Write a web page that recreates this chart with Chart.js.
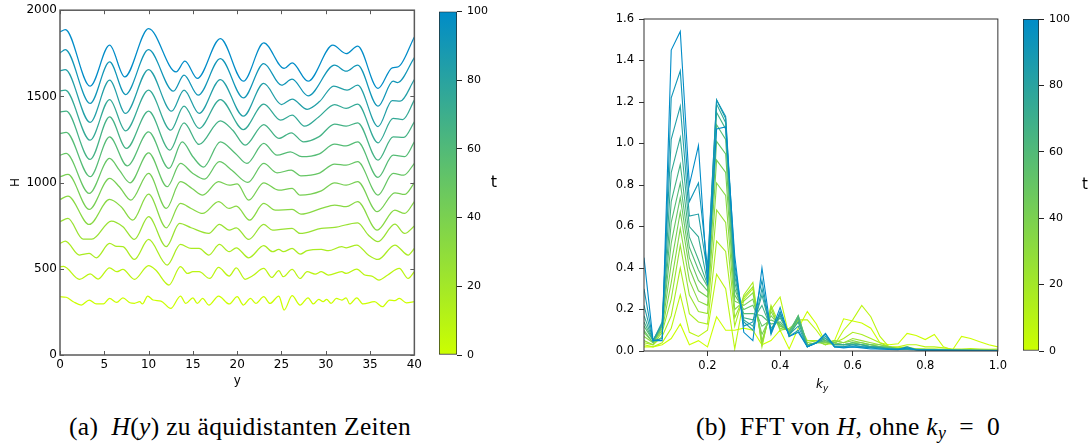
<!DOCTYPE html>
<html>
<head>
<meta charset="utf-8">
<script src="https://cdn.jsdelivr.net/npm/chart.js@4.4.1/dist/chart.umd.min.js"></script>
<style>
  html, body { margin: 0; padding: 0; background: #fff; }
  body { width: 1092px; height: 446px; position: relative; overflow: hidden; }
  canvas { position: absolute; top: 0; }
  .caption {
    position: absolute; top: 412px; transform: translateX(-50%);
    font-family: "Liberation Serif", "DejaVu Serif", serif; font-size: 25.5px;
    color: #000; white-space: nowrap; letter-spacing: 0.3px;
  }
  .caption sub { font-size: 70%; vertical-align: -0.25em; }
</style>
</head>
<body>
<canvas id="hPlot" width="425" height="400" style="left:0px"></canvas>
<canvas id="hBar" width="90" height="400" style="left:430px"></canvas>
<canvas id="fftPlot" width="450" height="400" style="left:560px"></canvas>
<canvas id="fftBar" width="82" height="400" style="left:1010px"></canvas>
<div class="caption" style="left:240px">(a)&nbsp; <i>H</i>(<i>y</i>) zu äquidistanten Zeiten</div>
<div class="caption" style="left:848px">(b)&nbsp; FFT von <i>H</i>, ohne <i>k<sub>y</sub></i>&ensp;=&ensp;0</div>

<script>
// times of the curves (colour index), 13 equidistant snapshots
const curveTimes = [0, 8.33, 16.67, 25, 33.33, 41.67, 50, 58.33, 66.67, 75, 83.33, 91.67, 100];

// colormap used by both colorbars
const cmapStops = [0, 100];
const cmapRGB = [[204, 255, 0], [0, 140, 200]];

// ---- left plot: H(y), points are [y, H]
const h_t0 = [[0,338],[0.7,335],[1.5,309],[2.4,290],[3.3,319],[4.1,296],[4.9,296],[5.6,328],[6.4,305],[7.1,332],[7.9,303],[8.4,300],[9.0,309],[9.3,296],[9.9,342],[10.5,319],[11.4,313],[12.5,270],[13.6,342],[14.2,299],[15.0,332],[15.5,299],[16.1,328],[16.8,290],[17.9,342],[19.1,296],[20.0,338],[20.7,290],[21.5,328],[22.1,299],[23.0,338],[23.7,299],[24.7,342],[25.3,261],[26.2,344],[27.1,290],[28.0,332],[28.6,296],[29.2,323],[29.7,309],[30.1,323],[30.6,299],[31.2,328],[31.8,319],[32.3,332],[32.7,296],[33.5,332],[34.2,296],[35.5,309],[36.4,280],[37.2,319],[37.8,315],[38.3,328],[39.1,303],[40,309]];
const h_t8 = [[0,512],[0.4,514],[2.2,439],[3.4,470],[4.3,440],[5.6,506],[6.4,483],[7.1,496],[8.4,439],[10.0,518],[10.8,493],[12.3,406],[13.6,512],[14.4,473],[15.0,483],[15.7,483],[16.9,444],[17.9,508],[19.1,458],[19.9,506],[20.9,439],[21.7,458],[23.0,502],[23.9,450],[24.7,489],[25.2,454],[26.2,496],[27.1,444],[27.9,483],[28.8,469],[29.5,483],[30.3,464],[31.8,483],[32.3,473],[33.5,498],[34.4,464],[35.2,458],[36.0,435],[37.0,464],[38.3,502],[39.3,444],[40,483]];
const h_t17 = [[0,647],[0.6,661],[2.2,580],[3.3,589],[4.1,564],[5.6,647],[6.4,630],[7.1,628],[8.4,554],[10.0,670],[12.1,522],[13.6,641],[14.8,618],[15.7,618],[16.8,580],[18.0,641],[19.1,599],[19.9,622],[21.3,564],[23.0,634],[24.0,599],[24.7,612],[25.2,599],[26.2,618],[27.1,585],[27.9,605],[29.5,612],[30.3,605],[31.8,628],[32.3,622],[33.5,638],[34.8,580],[35.9,554],[37.8,638],[39.3,580],[40,618]];
const h_t25 = [[0,773],[0.9,792],[2.6,672],[3.6,672],[5.8,777],[7.1,744],[8.4,670],[10.0,802],[12.0,628],[13.5,763],[14.8,738],[16.8,705],[18.0,757],[19.1,724],[19.9,738],[21.3,670],[23.0,757],[24.0,724],[24.7,727],[26.2,734],[27.1,705],[29.5,734],[31.0,740],[33.6,767],[34.8,696],[35.9,657],[37.8,759],[38.9,705],[40,748]];
const h_t33 = [[0,902],[0.9,922],[3.3,757],[5.6,902],[6.9,860],[8.2,782],[10.0,933],[12.0,738],[13.6,879],[14.8,850],[16.1,821],[17.9,889],[19.1,850],[19.9,864],[21.4,782],[23.0,879],[24.3,840],[26.2,844],[27.2,817],[29.5,850],[31.0,870],[32.3,860],[33.6,889],[35.8,724],[37.8,840],[38.9,821],[40,889]];
const h_t42 = [[0,1034],[0.9,1047],[3.3,844],[5.6,1024],[6.7,976],[8.0,898],[10.0,1053],[12.0,850],[13.6,1005],[14.9,966],[16.1,927],[17.9,1005],[19.1,985],[20.0,992],[21.3,898],[23.0,999],[24.7,956],[26.2,966],[27.1,927],[29.5,952],[31.0,999],[32.3,985],[33.6,1005],[35.8,831],[37.8,941],[38.9,931],[40,999]];
const h_t50 = [[0,1159],[0.7,1169],[3.3,937],[5.6,1140],[6.7,1072],[7.9,999],[10.0,1173],[12.1,976],[13.6,1111],[15.0,1053],[16.3,1020],[18.0,1121],[19.4,1072],[21.2,1001],[23.0,1111],[24.5,1057],[26.1,1072],[27.2,1039],[29.2,1053],[31.0,1107],[32.3,1101],[33.6,1121],[35.9,928],[37.6,1053],[38.8,1043],[40,1111]];
const h_t58 = [[0,1285],[0.7,1291],[3.4,1034],[5.6,1265],[7.6,1097],[10.0,1294],[12.3,1082],[13.8,1236],[15.0,1150],[16.2,1090],[18.1,1236],[19.8,1169],[21.1,1111],[23.0,1227],[24.5,1159],[26.0,1178],[27.3,1150],[29.2,1165],[31.0,1223],[32.3,1213],[33.6,1236],[35.9,1030],[37.6,1159],[38.9,1150],[40,1236]];
const h_t67 = [[0,1410],[0.7,1414],[3.4,1134],[5.6,1381],[7.5,1198],[10.0,1414],[12.4,1188],[14.0,1347],[15.7,1221],[18.1,1358],[19.5,1304],[20.9,1217],[23.0,1337],[24.7,1256],[26.1,1289],[27.5,1236],[29.2,1265],[31.0,1339],[32.3,1327],[33.6,1347],[35.9,1130],[37.6,1265],[38.8,1262],[40,1352]];
const h_t75 = [[0,1532],[0.6,1536],[3.4,1246],[5.6,1482],[7.4,1300],[10.0,1536],[12.5,1304],[14.0,1443],[15.7,1314],[18.1,1482],[20.7,1308],[23.0,1455],[24.9,1362],[26.2,1391],[27.6,1327],[29.2,1381],[31.0,1453],[32.3,1430],[33.6,1455],[35.9,1231],[37.6,1372],[38.7,1366],[40,1478]];
const h_t83 = [[0,1648],[0.6,1655],[3.4,1349],[5.6,1594],[7.4,1401],[10.0,1656],[12.6,1414],[14.0,1536],[15.7,1401],[18.1,1598],[20.7,1385],[23.0,1575],[25.0,1453],[26.2,1484],[27.9,1425],[29.3,1470],[30.9,1560],[32.4,1536],[33.6,1565],[35.9,1325],[37.5,1475],[38.4,1472],[40,1598]];
const h_t92 = [[0,1752],[0.6,1771],[3.4,1459],[5.6,1700],[7.4,1511],[10.0,1771],[12.8,1530],[14.0,1623],[15.6,1507],[18.1,1719],[20.7,1491],[23.0,1690],[25.0,1565],[26.2,1600],[28.0,1503],[31.0,1681],[32.3,1646],[33.6,1681],[35.9,1443],[37.6,1588],[38.1,1580],[40,1725]];
const h_t100 = [[0,1874],[0.6,1888],[3.4,1559],[5.6,1797],[7.3,1613],[10.0,1893],[13.1,1642],[14.1,1704],[15.5,1604],[18.1,1835],[20.7,1588],[23.0,1810],[25.3,1662],[26.2,1694],[28.0,1588],[30.8,1797],[32.3,1748],[33.6,1791],[35.9,1546],[37.5,1666],[38.2,1672],[40,1845]];
const hCurves = [h_t0, h_t8, h_t17, h_t25, h_t33, h_t42, h_t50, h_t58, h_t67, h_t75, h_t83, h_t92, h_t100];
const hXTicks = [0, 5, 10, 15, 20, 25, 30, 35, 40];
const hYTicks = [0, 500, 1000, 1500, 2000];

// ---- right plot: |FFT(H)| over k_y
const fftK = [0.025,0.05,0.075,0.1,0.125,0.15,0.175,0.2,0.225,0.25,0.275,0.3,0.325,0.35,0.375,0.4,0.425,0.45,0.475,0.5,
              0.525,0.55,0.575,0.6,0.625,0.65,0.675,0.7,0.725,0.75,0.775,0.8,0.825,0.85,0.875,0.9,0.925,0.95,0.975,1.0];
const fft_t0 = [0.02,0.02,0.03,0.06,0.13,0.03,0.05,0.02,0.165,0.10, 0.10,0.11,0.10,0.03,0.05,0.10,0.01,0.11,0.19,0.13,
  0.04,0.05,0.155,0.145,0.135,0.11,0.04,0.03,0.035,0.085, 0.075,0.055,0.08,0.02,0.005,0.07,0.06,0.045,0.03,0.02];
const fft_t8 = [0.03,0.02,0.04,0.11,0.27,0.09,0.07,0.10,0.37,0.30, 0.01,0.25,0.30,0.04,0.20,0.26,0.07,0.15,0.15,0.10,
  0.04,0.03,0.10,0.15,0.22,0.165,0.07,0.02,0.02,0.03, 0.03,0.02,0.02,0.015,0.01,0.01,0.012,0.01,0.008,0.01];
const fft_t17 = [0.04,0.03,0.07,0.17,0.40,0.18,0.14,0.13,0.53,0.48, 0.12,0.27,0.33,0.02,0.22,0.12,0.10,0.14,0.05,0.05,
  0.03,0.04,0.06,0.09,0.08,0.06,0.04,0.02,0.015,0.02, 0.01,0.01,0.01,0.008,0.006,0.005,0.005,0.005,0.004,0.004];
const fft_t25 = [0.05,0.03,0.09,0.25,0.51,0.27,0.19,0.18,0.68,0.62, 0.16,0.26,0.31,0.03,0.21,0.10,0.11,0.14,0.04,0.05,
  0.03,0.05,0.04,0.06,0.05,0.04,0.03,0.02,0.01,0.012, 0.01,0.008,0.008,0.006,0.005,0.005,0.004,0.004,0.004,0.003];
const fft_t33 = [0.07,0.04,0.10,0.33,0.59,0.34,0.24,0.22,0.81,0.75, 0.20,0.24,0.28,0.05,0.19,0.11,0.10,0.15,0.03,0.04,
  0.04,0.05,0.04,0.05,0.04,0.03,0.03,0.02,0.01,0.01, 0.01,0.008,0.007,0.006,0.005,0.004,0.004,0.004,0.003,0.003];
const fft_t42 = [0.09,0.04,0.11,0.42,0.67,0.40,0.29,0.26,0.92,0.86, 0.24,0.22,0.25,0.08,0.17,0.12,0.10,0.16,0.03,0.04,
  0.04,0.04,0.03,0.04,0.04,0.03,0.02,0.02,0.01,0.01, 0.008,0.007,0.006,0.005,0.004,0.004,0.004,0.003,0.003,0.003];
const fft_t50 = [0.10,0.04,0.12,0.52,0.74,0.45,0.34,0.29,1.01,0.95, 0.27,0.20,0.22,0.12,0.15,0.13,0.09,0.17,0.03,0.04,
  0.05,0.04,0.03,0.04,0.03,0.03,0.02,0.015,0.01,0.01, 0.008,0.006,0.005,0.005,0.004,0.004,0.003,0.003,0.003,0.003];
const fft_t58 = [0.12,0.05,0.12,0.62,0.81,0.50,0.39,0.31,1.09,1.02, 0.30,0.18,0.18,0.17,0.13,0.14,0.09,0.17,0.03,0.04,
  0.05,0.03,0.03,0.04,0.03,0.02,0.02,0.015,0.01,0.01, 0.007,0.006,0.005,0.004,0.004,0.003,0.003,0.003,0.003,0.002];
const fft_t67 = [0.14,0.05,0.13,0.72,0.90,0.55,0.44,0.32,1.15,1.07, 0.33,0.16,0.15,0.22,0.11,0.16,0.08,0.16,0.02,0.04,
  0.06,0.03,0.03,0.03,0.03,0.02,0.02,0.01,0.01,0.008, 0.007,0.005,0.005,0.004,0.003,0.003,0.003,0.003,0.002,0.002];
const fft_t75 = [0.17,0.05,0.13,0.86,1.03,0.60,0.55,0.33,1.19,1.10, 0.36,0.15,0.12,0.27,0.10,0.17,0.08,0.14,0.02,0.04,
  0.06,0.03,0.03,0.03,0.03,0.02,0.015,0.01,0.01,0.008, 0.006,0.005,0.004,0.004,0.003,0.003,0.003,0.002,0.002,0.002];
const fft_t83 = [0.22,0.05,0.14,1.02,1.18,0.65,0.66,0.38,1.21,1.12, 0.39,0.14,0.10,0.30,0.09,0.18,0.08,0.12,0.02,0.04,
  0.07,0.02,0.02,0.03,0.02,0.02,0.015,0.01,0.008,0.008, 0.006,0.005,0.004,0.003,0.003,0.003,0.002,0.002,0.002,0.002];
const fft_t92 = [0.30,0.05,0.06,1.22,1.35,0.72,0.81,0.40,1.21,1.13, 0.42,0.12,0.14,0.34,0.08,0.19,0.07,0.10,0.02,0.04,
  0.08,0.02,0.02,0.02,0.02,0.015,0.01,0.01,0.008,0.02, 0.006,0.004,0.004,0.003,0.003,0.002,0.002,0.002,0.002,0.002];
const fft_t100 = [0.45,0.05,0.05,1.45,1.54,0.80,0.99,0.32,1.07,1.08, 0.46,0.09,0.05,0.40,0.09,0.21,0.07,0.09,0.02,0.04,
  0.085,0.02,0.015,0.02,0.015,0.01,0.01,0.008,0.006,0.015, 0.005,0.004,0.003,0.003,0.002,0.002,0.002,0.002,0.002,0.002];
const fftCurves = [fft_t0, fft_t8, fft_t17, fft_t25, fft_t33, fft_t42, fft_t50, fft_t58, fft_t67, fft_t75, fft_t83, fft_t92, fft_t100];
const fftXTicks = [0.2, 0.4, 0.6, 0.8, 1.0];
const fftYTicks = [0, 0.2, 0.4, 0.6, 0.8, 1.0, 1.2, 1.4, 1.6];

// colorbar
const cbarRange = [0, 100];
const cbarTicks = [0, 20, 40, 60, 80, 100];

const FONT = "'DejaVu Sans', Verdana, sans-serif";

function cmap(t) {
  let i = 0;
  while (i < cmapStops.length - 2 && t > cmapStops[i + 1]) i++;
  const f = Math.min(1, Math.max(0, (t - cmapStops[i]) / (cmapStops[i + 1] - cmapStops[i])));
  const a = cmapRGB[i], b = cmapRGB[i + 1];
  const c = a.map((v, k) => Math.round(v + (b[k] - v) * f));
  return `rgb(${c[0]},${c[1]},${c[2]})`;
}

function fixTicks(values) {
  return scale => { scale.ticks = values.map(v => ({ value: v })); };
}

// box around the axes, optional inward ticks, extra labels
const framePlugin = {
  id: "frame",
  afterDatasetsDraw(chart, args, opts) {
    const { ctx, chartArea: a } = chart;
    ctx.save();
    if (opts.inTicks) {
      const len = opts.inTicks;
      ctx.strokeStyle = opts.color;
      ctx.lineWidth = 1;
      ctx.beginPath();
      chart.scales.x.ticks.forEach(t => {
        const px = Math.round(chart.scales.x.getPixelForValue(t.value)) + 0.5;
        ctx.moveTo(px, a.bottom); ctx.lineTo(px, a.bottom - len);
        ctx.moveTo(px, a.top); ctx.lineTo(px, a.top + len);
      });
      chart.scales.y.ticks.forEach(t => {
        const py = Math.round(chart.scales.y.getPixelForValue(t.value)) + 0.5;
        ctx.moveTo(a.left, py); ctx.lineTo(a.left + len, py);
        ctx.moveTo(a.right, py); ctx.lineTo(a.right - len, py);
      });
      ctx.stroke();
    }
    if (opts.width) {
      ctx.strokeStyle = opts.color;
      ctx.lineWidth = opts.width;
      ctx.strokeRect(a.left, a.top, a.right - a.left, a.bottom - a.top);
    }
    ctx.restore();
  },
  afterDraw(chart, args, opts) {
    const { ctx, chartArea: a } = chart;
    ctx.save();
    ctx.fillStyle = "#000";
    ctx.textAlign = "center";
    ctx.textBaseline = "middle";
    if (opts.sideLabel) {
      ctx.font = `${opts.sideLabel.size}px ${FONT}`;
      ctx.fillText(opts.sideLabel.text, a.right + opts.sideLabel.dx, (a.top + a.bottom) / 2);
    }
    if (opts.kLabel) {
      // k_y with subscript
      const cx = (a.left + a.right) / 2, cy = a.bottom + opts.kLabel.dy;
      ctx.font = `italic 12px ${FONT}`;
      ctx.textAlign = "right";
      ctx.fillText("k", cx + 2, cy);
      ctx.font = `italic 9px ${FONT}`;
      ctx.textAlign = "left";
      ctx.fillText("y", cx + 2, cy + 4);
    }
    ctx.restore();
  }
};

// left plot
new Chart(document.getElementById("hPlot"), {
  type: "line",
  data: {
    datasets: hCurves.map((pts, i) => ({
      data: pts.map(p => ({ x: p[0], y: p[1] })),
      borderColor: cmap(curveTimes[i]),
      borderWidth: 1.25,
      pointRadius: 0,
      fill: false,
      cubicInterpolationMode: "monotone",
      order: hCurves.length - i
    }))
  },
  options: {
    responsive: false,
    animation: false,
    layout: { padding: { top: 10, right: 7, left: 0, bottom: 0 } },
    plugins: {
      legend: { display: false },
      tooltip: { enabled: false },
      frame: { color: "#5a5a5a", width: 1.5, inTicks: 4 }
    },
    scales: {
      x: {
        type: "linear", min: 0, max: 40,
        afterBuildTicks: fixTicks(hXTicks),
        afterFit: s => { s.height = 45; },
        grid: { display: false, drawTicks: false },
        border: { display: false },
        ticks: { font: { family: FONT, size: 12 }, color: "#000", padding: 3, maxRotation: 0, callback: v => String(v) },
        title: { display: true, text: "y", color: "#000", font: { family: FONT, size: 12 }, padding: { top: 0, bottom: 12 } }
      },
      y: {
        type: "linear", min: 0, max: 2000,
        afterBuildTicks: fixTicks(hYTicks),
        afterFit: s => { s.width = 60; },
        grid: { display: false, drawTicks: false },
        border: { display: false },
        ticks: { font: { family: FONT, size: 12 }, color: "#000", padding: 3, callback: v => String(v) },
        title: { display: true, text: "H", color: "#000", font: { family: FONT, size: 12 }, padding: { top: 9, bottom: 0 } }
      }
    }
  },
  plugins: [framePlugin]
});

// right plot
new Chart(document.getElementById("fftPlot"), {
  type: "line",
  data: {
    datasets: fftCurves.map((vals, i) => ({
      data: fftK.map((k, j) => ({ x: k, y: vals[j] })),
      borderColor: cmap(curveTimes[i]),
      borderWidth: 1.1,
      pointRadius: 0,
      fill: false,
      tension: 0,
      order: fftCurves.length - i
    }))
  },
  options: {
    responsive: false,
    animation: false,
    layout: { padding: { top: 19, right: 9, left: 0, bottom: 0 } },
    plugins: {
      legend: { display: false },
      tooltip: { enabled: false },
      frame: { color: "#333", width: 1, kLabel: { dy: 34 } }
    },
    scales: {
      x: {
        type: "linear", min: 0.025, max: 1.0,
        afterBuildTicks: fixTicks(fftXTicks),
        afterFit: s => { s.height = 49; },
        grid: { drawOnChartArea: false, tickLength: 5, tickColor: "#333" },
        border: { display: false },
        ticks: { font: { family: FONT, size: 11.5 }, color: "#000", padding: 3, maxRotation: 0, callback: v => v.toFixed(1) }
      },
      y: {
        type: "linear", min: 0, max: 1.6,
        afterBuildTicks: fixTicks(fftYTicks),
        afterFit: s => { s.width = 84; },
        grid: { drawOnChartArea: false, tickLength: 5, tickColor: "#333" },
        border: { display: false },
        ticks: { font: { family: FONT, size: 11.5 }, color: "#000", padding: 5, callback: v => v.toFixed(1) }
      }
    }
  },
  plugins: [framePlugin]
});

// colorbars
function cbarFill(c) {
  const chart = c.chart;
  const ys = chart.scales && chart.scales.y;
  if (!chart.chartArea || !ys) return cmap(50);
  const y0 = ys.getPixelForValue(cbarRange[0]);
  const y1 = ys.getPixelForValue(cbarRange[1]);
  if (!isFinite(y0) || !isFinite(y1) || y0 === y1) return cmap(50);
  const g = chart.ctx.createLinearGradient(0, y0, 0, y1);
  cmapStops.forEach(s => g.addColorStop((s - cbarRange[0]) / (cbarRange[1] - cbarRange[0]), cmap(s)));
  return g;
}

function makeColorbar(id, pad, axisWidth, label) {
  new Chart(document.getElementById(id), {
    type: "bar",
    data: {
      labels: ["t"],
      datasets: [{
        data: [cbarRange],
        backgroundColor: cbarFill,
        borderColor: "#222",
        borderWidth: 1,
        borderSkipped: false,
        categoryPercentage: 1,
        barPercentage: 1
      }]
    },
    options: {
      responsive: false,
      animation: false,
      layout: { padding: pad },
      plugins: {
        legend: { display: false },
        tooltip: { enabled: false },
        frame: { sideLabel: label }
      },
      scales: {
        x: { display: false },
        y: {
          position: "right", min: cbarRange[0], max: cbarRange[1],
          afterBuildTicks: fixTicks(cbarTicks),
          afterFit: s => { s.width = axisWidth; },
          grid: { drawOnChartArea: false, tickLength: 5, tickColor: "#222" },
          border: { display: false },
          ticks: { font: { family: FONT, size: 11 }, color: "#000", padding: 5 }
        }
      }
    },
    plugins: [framePlugin]
  });
}

makeColorbar("hBar", { top: 10, bottom: 45, left: 9, right: 0 }, 63, { text: "t", size: 16, dx: 37 });
makeColorbar("fftBar", { top: 19, bottom: 49, left: 13, right: 0 }, 53, { text: "t", size: 15, dx: 46 });
</script>
</body>
</html>
